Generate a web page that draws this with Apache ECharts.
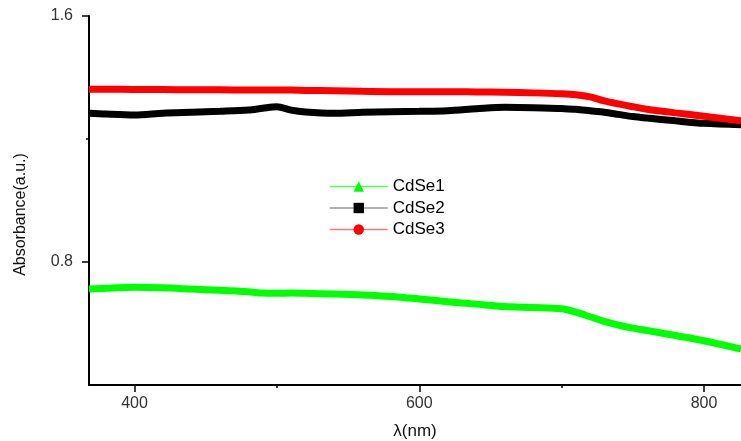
<!DOCTYPE html>
<html>
<head>
<meta charset="utf-8">
<script src="https://cdn.jsdelivr.net/npm/echarts@6/dist/echarts.min.js"></script>
<style>
    html, body {margin: 0; padding: 0; background: #fff;}
    #chart {width: 741px; height: 441px;}
</style>
</head>
<body>
<div id="chart"></div>
<script>
    // wavelength (nm) and absorbance
    const wavelength = [368, 380, 400, 420, 440, 460, 480, 490, 500, 510, 520, 540, 560, 580, 600, 620, 640, 660, 680, 700, 710, 720, 730, 740, 750, 760, 780, 800, 826];
    const cdse1 = [0.712, 0.715, 0.718, 0.716, 0.712, 0.708, 0.703, 0.699, 0.698, 0.699, 0.698, 0.696, 0.693, 0.688, 0.680, 0.671, 0.663, 0.655, 0.652, 0.648, 0.637, 0.622, 0.607, 0.595, 0.585, 0.577, 0.561, 0.544, 0.517];
    const cdse2 = [1.284, 1.281, 1.278, 1.284, 1.287, 1.290, 1.294, 1.300, 1.305, 1.294, 1.288, 1.284, 1.287, 1.289, 1.290, 1.292, 1.298, 1.303, 1.302, 1.299, 1.297, 1.292, 1.287, 1.280, 1.273, 1.268, 1.259, 1.251, 1.246];
    const cdse3 = [1.362, 1.362, 1.361, 1.361, 1.360, 1.360, 1.359, 1.359, 1.359, 1.359, 1.358, 1.357, 1.355, 1.354, 1.354, 1.354, 1.353, 1.352, 1.350, 1.347, 1.344, 1.337, 1.324, 1.314, 1.305, 1.297, 1.285, 1.274, 1.259];
    const xTicks = [400, 600, 800];
    const xMinorTicks = [500, 700];
    const yTicks = [0.8, 1.6];
    const yMinorTicks = [1.2];

    const font = '"Liberation Sans", Arial, sans-serif';
    const pairs = (ys) => wavelength.map((x, i) => [x, ys[i]]);

    const chart = echarts.init(document.getElementById('chart'));
    chart.setOption({
        animation: false,
        textStyle: {fontFamily: font},
        grid: {left: 89, right: 0, top: 16, bottom: 56, outerBoundsMode: 'none'},
        legend: {
            orient: 'vertical', left: 329, top: 178, padding: 0,
            itemWidth: 58, itemHeight: 13, itemGap: 4.5,
            textStyle: {fontSize: 17, color: '#000', fontFamily: font},
            data: [
                {name: 'CdSe1', lineStyle: {color: '#55ff55', width: 1.5}},
                {name: 'CdSe2', lineStyle: {color: '#999999', width: 1.5}},
                {name: 'CdSe3', lineStyle: {color: '#ff7777', width: 1.5}}
            ]
        },
        xAxis: [{
            type: 'value', min: 368, max: 826,
            name: 'λ(nm)', nameLocation: 'middle', nameGap: 38,
            nameTextStyle: {fontSize: 17, color: '#111'},
            axisLine: {lineStyle: {color: '#000', width: 2}},
            axisTick: {customValues: xTicks, length: 7, lineStyle: {color: '#000', width: 1.5}},
            axisLabel: {customValues: xTicks, fontSize: 16, color: '#333', margin: 11},
            splitLine: {show: false}
        }, {
            type: 'value', min: 368, max: 826, position: 'bottom',
            axisLine: {show: false},
            axisTick: {customValues: xMinorTicks, length: 3, lineStyle: {color: '#000', width: 1.5}},
            axisLabel: {show: false},
            splitLine: {show: false}
        }],
        yAxis: [{
            type: 'value', min: 0.4, max: 1.6, position: 'left',
            name: 'Absorbance(a.u.)', nameLocation: 'middle', nameGap: 60, nameRotate: 90,
            nameTextStyle: {fontSize: 16, color: '#111', padding: [0, 28, 0, 0]},
            axisLine: {lineStyle: {color: '#000', width: 2}},
            axisTick: {customValues: yTicks, length: 7, lineStyle: {color: '#000', width: 1.5}},
            axisLabel: {customValues: yTicks, fontSize: 16, color: '#333', margin: 16, formatter: v => v.toFixed(1)},
            splitLine: {show: false}
        }, {
            type: 'value', min: 0.4, max: 1.6, position: 'left',
            axisLine: {show: false},
            axisTick: {customValues: yMinorTicks, length: 3, lineStyle: {color: '#000', width: 1.5}},
            axisLabel: {show: false},
            splitLine: {show: false}
        }],
        series: [
            {name: 'CdSe1', type: 'line', data: pairs(cdse1), symbol: 'triangle', showSymbol: false,
                smooth: 0.3, color: '#00ff00', lineStyle: {color: '#00ff00', width: 7}},
            {name: 'CdSe2', type: 'line', data: pairs(cdse2), symbol: 'rect', showSymbol: false,
                smooth: 0.3, color: '#000000', lineStyle: {color: '#000000', width: 7}},
            {name: 'CdSe3', type: 'line', data: pairs(cdse3), symbol: 'circle', showSymbol: false,
                smooth: 0.3, color: '#ff0000', lineStyle: {color: '#ff0000', width: 7}}
        ]
    });
</script>
</body>
</html>
